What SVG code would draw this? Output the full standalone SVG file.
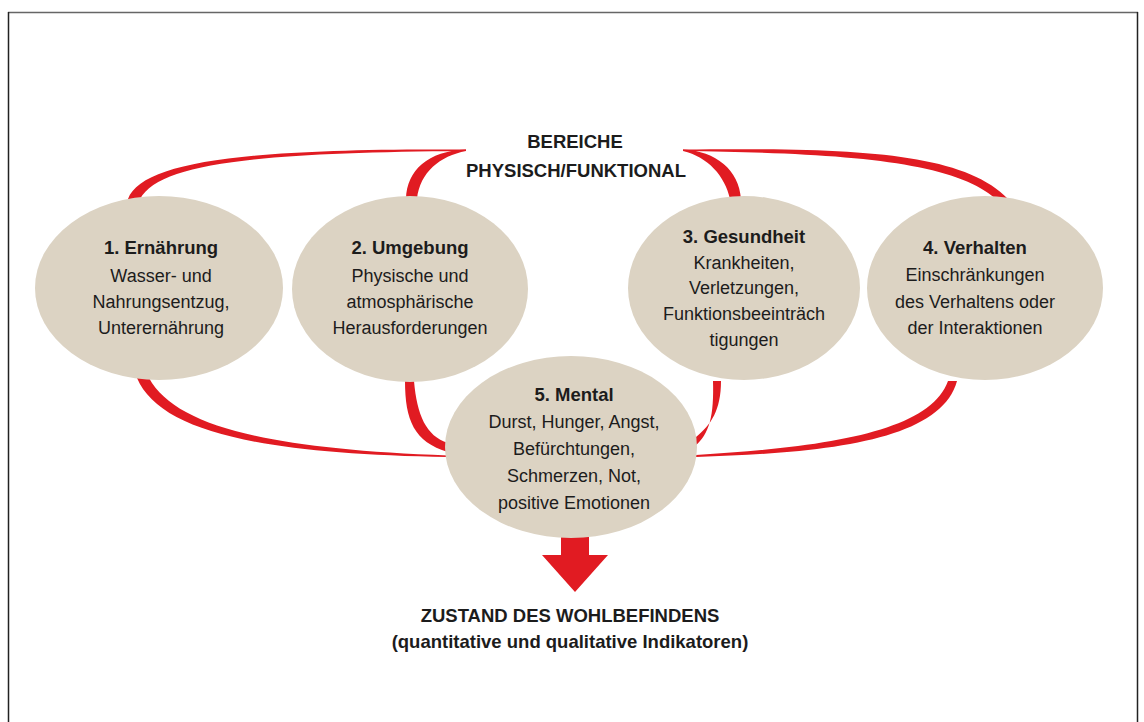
<svg xmlns="http://www.w3.org/2000/svg" width="1144" height="722" viewBox="0 0 1144 722">
<style>
.node{fill:#dcd3c3}
.t{font-family:"Liberation Sans",Arial,sans-serif;font-size:18px;fill:#1c1c1c;text-anchor:middle}
.b{font-weight:bold;font-size:18.5px}
.h{font-family:"Liberation Sans",Arial,sans-serif;font-size:18.5px;font-weight:bold;fill:#1c1c1c;text-anchor:middle}
.red{fill:#e11b22}
</style>
<rect x="0" y="0" width="1144" height="722" fill="#ffffff"/>
<g id="frame" fill="none">
<line x1="8" y1="12.5" x2="1138" y2="12.5" stroke="#666" stroke-width="1.5"/>
<line x1="8.5" y1="12" x2="8.5" y2="722" stroke="#222" stroke-width="1.5"/>
<line x1="1137.5" y1="12" x2="1137.5" y2="722" stroke="#222" stroke-width="1.5"/>
</g>
<g id="connectors">
<path class="red" d="M128,199 C142,161 250,148 466,149.5 L466,151 C258,152.5 160,163 140,199 Z"/>
<path class="red" d="M406,199 C407,170 428,151 466,149.5 L466,151 C440,156 420,172 417,199 Z"/>
<path class="red" d="M683,149.5 C716,151 739,170 741,199 L730,199 C725,176 708,157 683,151 Z"/>
<path class="red" d="M683,149.5 C850,148 962,151 1008,199 L996,199 C955,162 850,153 683,151 Z"/>
<path class="red" d="M137,378 C160,432 262,454 448,457 L448,455.5 C270,449 176,427 149,378 Z"/>
<path class="red" d="M405,381 C405,420 414,442 448,452 L448,443 C426,436 417,415 414,381 Z"/>
<path class="red" d="M713,381 C714,415 710,434 694,447 L696,437 C711,425 721,410 721,381 Z"/>
<path class="red" d="M957,381 C941,440 830,453 696,457 L696,455 C830,447 930,431 948,381 Z"/>
<path class="red" d="M561,536 L589,536 L589,555 L608,555 L575,592 L542,555 L561,555 Z"/>
</g>
<g id="label-top">
<text class="h" x="575" y="148">BEREICHE</text>
<text class="h" x="576" y="177">PHYSISCH/FUNKTIONAL</text>
</g>
<g id="node1">
<ellipse class="node" cx="159" cy="288" rx="124" ry="92"/>
<text class="t b" x="161" y="254">1. Ernährung</text>
<text class="t" x="161" y="282">Wasser- und</text>
<text class="t" x="161" y="308">Nahrungsentzug,</text>
<text class="t" x="161" y="334">Unterernährung</text>
</g>
<g id="node2">
<ellipse class="node" cx="410" cy="289" rx="118" ry="93"/>
<text class="t b" x="410" y="254">2. Umgebung</text>
<text class="t" x="410" y="282">Physische und</text>
<text class="t" x="410" y="308">atmosphärische</text>
<text class="t" x="410" y="334">Herausforderungen</text>
</g>
<g id="node3">
<ellipse class="node" cx="744" cy="288" rx="116" ry="92"/>
<text class="t b" x="744" y="243">3. Gesundheit</text>
<text class="t" x="744" y="269">Krankheiten,</text>
<text class="t" x="744" y="294">Verletzungen,</text>
<text class="t" x="744" y="320">Funktionsbeeinträch</text>
<text class="t" x="744" y="346">tigungen</text>
</g>
<g id="node4">
<ellipse class="node" cx="985" cy="288" rx="118" ry="92"/>
<text class="t b" x="975" y="254">4. Verhalten</text>
<text class="t" x="975" y="281">Einschränkungen</text>
<text class="t" x="975" y="308">des Verhaltens oder</text>
<text class="t" x="975" y="334">der Interaktionen</text>
</g>
<g id="node5">
<ellipse class="node" cx="571" cy="447" rx="126" ry="91"/>
<text class="t b" x="574" y="401">5. Mental</text>
<text class="t" x="574" y="428">Durst, Hunger, Angst,</text>
<text class="t" x="574" y="455">Befürchtungen,</text>
<text class="t" x="574" y="482">Schmerzen, Not,</text>
<text class="t" x="574" y="509">positive Emotionen</text>
</g>
<g id="label-bottom">
<text class="h" x="570" y="622">ZUSTAND DES WOHLBEFINDENS</text>
<text class="h" x="570" y="648">(quantitative und qualitative Indikatoren)</text>
</g>
</svg>
